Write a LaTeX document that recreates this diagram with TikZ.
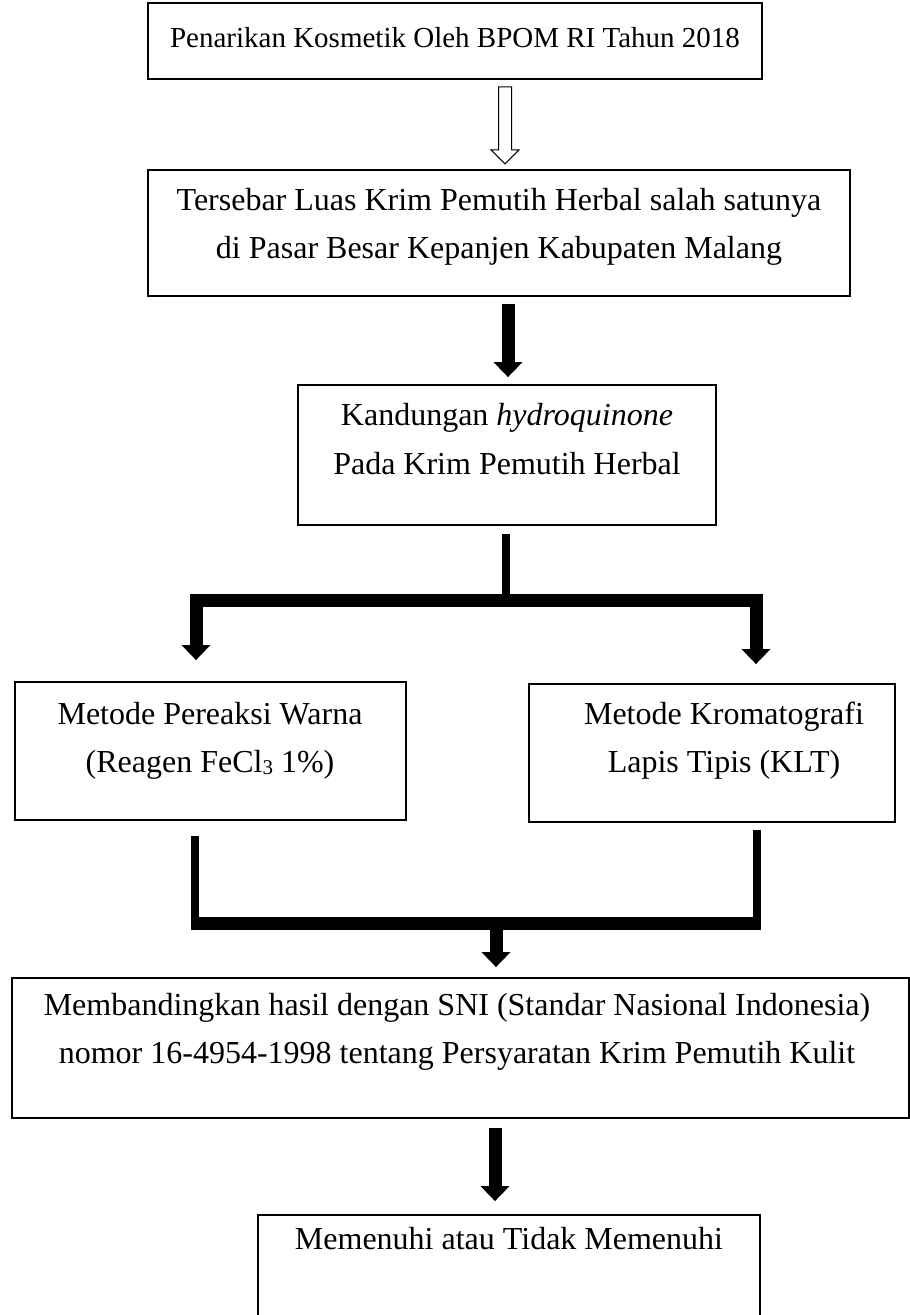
\documentclass[tikz,border=0pt]{standalone}
\usepackage{fontspec}
\setmainfont{Liberation Serif}
\usetikzlibrary{arrows.meta,calc}
\begin{document}
\begin{tikzpicture}[x=1pt,y=-1pt,
  box/.style={draw=black, line width=1.8pt, inner sep=0pt},
  txt/.style={font=\fontsize{32}{38}\selectfont, inner sep=0pt, text height=22pt, text depth=7pt, anchor=center},
  smalltxt/.style={txt, font=\fontsize{29}{35}\selectfont, text height=20pt, text depth=6pt},
  fat/.style={line width=13pt, -{Triangle[width=28pt,length=15pt]}},
  stemline/.style={line width=8pt},
  barline/.style={line width=13pt},
  hollow/.style={draw=black, line width=1pt, fill=white, line join=miter}
]
\fill[white] (0,0) rectangle (910,1315);
\useasboundingbox (0,0) rectangle (910,1315);

% boxes
\node[box, minimum width=614pt, minimum height=76pt] (b1) at (455,41) {};
\node[box, minimum width=702pt, minimum height=126pt] (b2) at (499,233) {};
\node[box, minimum width=418pt, minimum height=140pt] (b3) at (507,455) {};
\node[box, minimum width=391pt, minimum height=138pt] (b4) at (210.5,751) {};
\node[box, minimum width=366pt, minimum height=138pt] (b5) at (712,753) {};
\node[box, minimum width=897pt, minimum height=140pt] (b6) at (460.5,1048) {};
\node[box, minimum width=502pt, minimum height=140pt] (b7) at (509,1285) {};

% texts
\node[smalltxt] (t1) at (455,40) {Penarikan Kosmetik Oleh BPOM RI Tahun 2018};
\node[txt] (t2a) at (499,203) {Tersebar Luas Krim Pemutih Herbal salah satunya};
\node[txt] (t2b) at (499,251) {di Pasar Besar Kepanjen Kabupaten Malang};
\node[txt] (t3a) at (507,418) {Kandungan \textit{hydroquinone}};
\node[txt] (t3b) at (507,467) {Pada Krim Pemutih Herbal};
\node[txt] (t4a) at (210,717) {Metode Pereaksi Warna};
\node[txt] (t4b) at (210,765) {(Reagen FeCl{\fontsize{21}{21}\selectfont\raisebox{-2pt}{3}} 1\%)};
\node[txt] (t5a) at (724,717) {Metode Kromatografi};
\node[txt] (t5b) at (724,765) {Lapis Tipis (KLT)};
\node[txt] (t6a) at (457,1008) {Membandingkan hasil dengan SNI (Standar Nasional Indonesia)};
\node[txt] (t6b) at (457,1056) {nomor 16-4954-1998 tentang Persyaratan Krim Pemutih Kulit};
\node[txt] (t7) at (509,1242) {Memenuhi atau Tidak Memenuhi};

% hollow arrow b1 -> b2
\draw[hollow] ($(b1.south)+(43.5,7)$) -- ++(13,0) -- ++(0,63) -- ++(7.5,0)
  -- ++(-14,14) -- ++(-14,-14) -- ++(7.5,0) -- cycle;

% b2 -> b3
\draw[fat] ($(b2.south)+(9,7)$) -- ($(b3.north)+(1,-7)$);

% split b3 -> b4, b5
\coordinate (split) at (506,600.5);
\draw[stemline] ($(b3.south)+(-1,8)$) -- (split);
\draw[line width=13pt, line join=miter, {Triangle[width=28pt,length=15pt]}-{Triangle[width=28pt,length=15pt]}]
  ($(b4.north)+(-14.5,-21)$) |- (split) -| ($(b5.north)+(44,-19)$);

% merge b4, b5 -> b6
\coordinate (mL) at (195,923.5);
\coordinate (mR) at (757,923.5);
\coordinate (mC) at (496,923.5);
\draw[stemline] ($(b4.south -| mL)+(0,15)$) -- ([yshift=-6.5pt]mL);
\draw[stemline] ($(b5.south -| mR)+(0,7)$) -- ([yshift=-6.5pt]mR);
\draw[barline] ([xshift=-4pt]mL) -- ([xshift=4pt]mR);
\draw[fat] (mC) -- ($(b6.north -| mC)+(0,-10)$);

% b6 -> b7
\coordinate (ac) at (495,1100);
\draw[fat] ($(b6.south -| ac)+(0,9)$) -- ($(b7.north -| ac)+(0,-13)$);
\end{tikzpicture}
\end{document}
